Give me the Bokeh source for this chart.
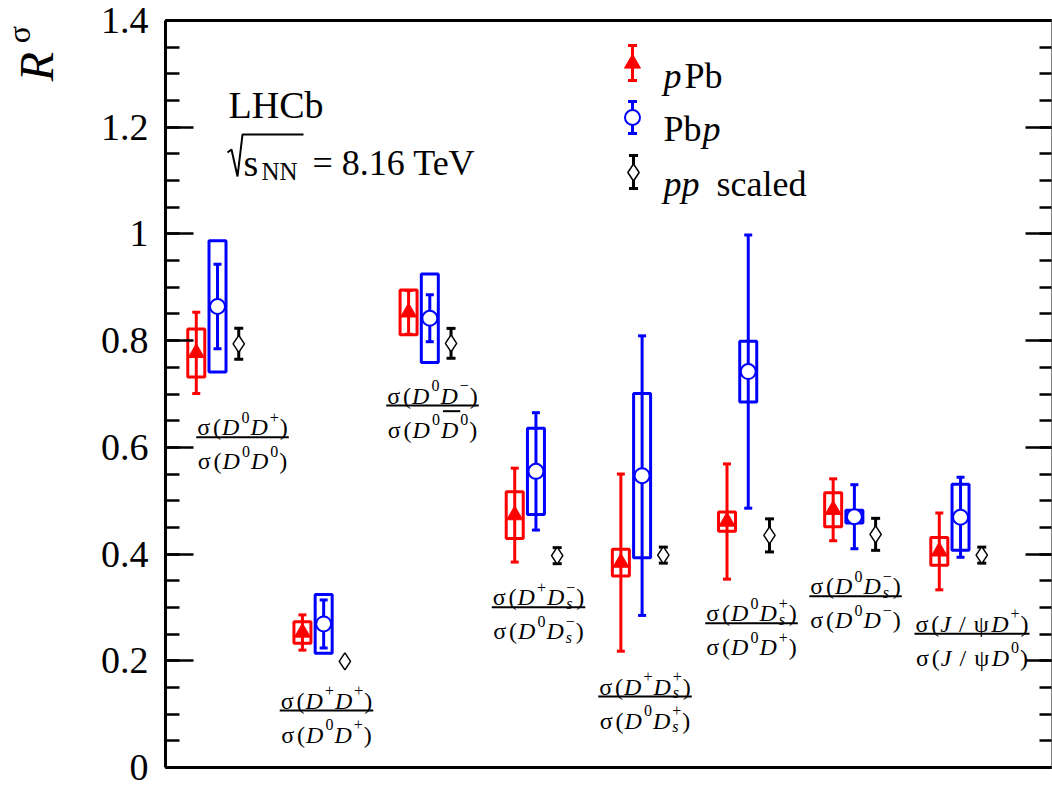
import math
from bokeh.plotting import figure
from bokeh.models import LinearAxis, FixedTicker, ColumnDataSource, CustomJSTickFormatter
from bokeh.core.properties import value
from bokeh.embed import file_html
from bokeh.resources import INLINE

# ---------------- data ----------------
num_labels = ["σ(D^0D^+)", "σ(D^+D^+)", "σ(D^0D^−)", "σ(D^+D_s^−)",
              "σ(D^+D_s^+)", "σ(D^0D_s^+)", "σ(D^0D_s^−)", "σ(J / ψD^+)"]
den_labels = ["σ(D^0D^0)", "σ(D^0D^+)", "σ(D^0~D^0)", "σ(D^0D_s^−)",
              "σ(D^0D_s^+)", "σ(D^0D^+)", "σ(D^0D^−)", "σ(J / ψD^0)"]

pPb_val  = [0.777, 0.253, 0.853, 0.473, 0.384, 0.461, 0.483, 0.405]
pPb_stat = [0.076, 0.033, 0.041, 0.088, 0.166, 0.108, 0.058, 0.072]
pPb_syst = [0.045, 0.020, 0.042, 0.044, 0.025, 0.018, 0.032, 0.026]

Pbp_val  = [0.864, 0.269, 0.842, 0.555, 0.547, 0.742, 0.470, 0.469]
Pbp_stat = [0.079, 0.045, 0.044, 0.110, 0.262, 0.256, 0.060, 0.075]
Pbp_syst = [0.123, 0.055, 0.083, 0.081, 0.154, 0.057, 0.012, 0.062]

pp_val = [0.794, 0.199, 0.795, 0.397, 0.398, 0.435, 0.437, 0.398]
pp_err = [0.029, 0.000, 0.028, 0.015, 0.015, 0.031, 0.030, 0.015]

y_ticks = [0, 0.2, 0.4, 0.6, 0.8, 1.0, 1.2, 1.4]
y_tick_labels = ["0", "0.2", "0.4", "0.6", "0.8", "1", "1.2", "1.4"]
y_minor = [0.05 * k for k in range(29)]

legend_names = [("p", "Pb"), ("Pb", "p"), ("pp", "scaled")]
y_title = ("R", "σ")

# ---------------- layout ----------------
FONT = "Liberation Serif"
RED, BLUE, BLACK = "#ff0000", "#0000ff", "#000000"
X_AX, X_RT = 0.51, 8.857        # data x of the drawn left / right axes
Y_LO, Y_HI = 0.0, 1.4
FIG_W, FIG_H = 1052, 789
AX_L, AX_T, AX_R, AX_B = 165, 20, 1051, 767   # drawn axes box, page pixels
PXU_X = (AX_R - AX_L) / (X_RT - X_AX)
PXU_Y = (AX_B - AX_T) / (Y_HI - Y_LO)
# the frame covers the whole canvas; axes are drawn at fixed locations
X_START = X_AX - AX_L / PXU_X
X_END = X_RT + (FIG_W - AX_R) / PXU_X
Y_START = Y_LO - (FIG_H - AX_B) / PXU_Y
Y_END = Y_HI + AX_T / PXU_Y


def px_x(px):
    return X_AX + (px - AX_L) / PXU_X


def px_y(py):
    return Y_LO + (AX_B - py) / PXU_Y


p = figure(width=FIG_W, height=FIG_H, x_range=(X_START, X_END), y_range=(Y_START, Y_END),
           output_backend="svg", toolbar_location=None,
           min_border_left=0, min_border_right=0, min_border_top=0, min_border_bottom=0)
p.grid.visible = False
p.outline_line_color = None
p.background_fill_color = "white"
p.border_fill_color = "white"

blank = CustomJSTickFormatter(code="return ''")

# left axis
ya = p.yaxis[0]
ya.fixed_location = X_AX
ya.bounds = (Y_LO, Y_HI)
ya.ticker = FixedTicker(ticks=y_ticks, minor_ticks=y_minor)
ya.major_label_overrides = {t: l for t, l in zip(y_ticks, y_tick_labels)}
ya.major_label_text_font = FONT
ya.major_label_text_font_size = "38px"
ya.major_label_text_color = BLACK
ya.major_label_standoff = 17
ya.axis_line_width = 3
ya.axis_line_color = BLACK
ya.major_tick_in = 28
ya.major_tick_out = 0
ya.minor_tick_in = 14
ya.minor_tick_out = 0
ya.major_tick_line_width = 2.5
ya.minor_tick_line_width = 2.5

# bottom axis: line only
xa = p.xaxis[0]
xa.fixed_location = Y_LO
xa.bounds = (X_AX, X_RT)
xa.ticker = FixedTicker(ticks=[])
xa.formatter = blank
xa.major_tick_line_color = None
xa.minor_tick_line_color = None
xa.major_label_text_font_size = "0px"
xa.major_label_standoff = 0
xa.axis_line_width = 3
xa.axis_line_color = BLACK

ra = LinearAxis(fixed_location=X_RT, bounds=(Y_LO, Y_HI),
                ticker=FixedTicker(ticks=y_ticks, minor_ticks=y_minor), formatter=blank,
                major_label_text_font_size="0px", major_label_standoff=0,
                axis_line_width=1, axis_line_color="#808080",
                major_tick_in=26, major_tick_out=0, minor_tick_in=12, minor_tick_out=0,
                major_tick_line_width=2.5, minor_tick_line_width=2.5)
p.add_layout(ra, "right")
ta = LinearAxis(fixed_location=Y_HI, bounds=(X_AX, X_RT),
                ticker=FixedTicker(ticks=[]), formatter=blank,
                major_label_text_font_size="0px", major_label_standoff=0,
                axis_line_width=3, axis_line_color=BLACK,
                major_tick_line_color=None, minor_tick_line_color=None)
p.add_layout(ta, "above")

# ---------------- data marks ----------------
xpos = list(range(1, 9))
x_red = [x - 0.2 for x in xpos]
x_blue = [x for x in xpos]
x_black = [x + 0.2 for x in xpos]


def draw_series(xs, vals, stat, syst, color, cap_w=8):
    if syst is not None:
        p.rect(x=xs, y=vals, width=17, height=[2 * s for s in syst], width_units="screen",
               fill_color=None, line_color=color, line_width=3)
    p.segment(x0=xs, y0=[v - e for v, e in zip(vals, stat)], x1=xs,
              y1=[v + e for v, e in zip(vals, stat)], line_color=color, line_width=3)
    cx, cy = [], []
    for x, v, e in zip(xs, vals, stat):
        if e * PXU_Y > 6:
            cx += [x, x]
            cy += [v - e, v + e]
    p.rect(x=cx, y=cy, width=cap_w, height=3, width_units="screen", height_units="screen",
           fill_color=color, line_color=None)


draw_series(x_red, pPb_val, pPb_stat, pPb_syst, RED)
draw_series(x_blue, Pbp_val, Pbp_stat, Pbp_syst, BLUE)
draw_series(x_black, pp_val, pp_err, None, BLACK, cap_w=9)

MK_RED = dict(marker="triangle", size=16, fill_color=RED, line_color=RED, line_width=1)
MK_BLUE = dict(marker="circle", size=15, fill_color="white", line_color=BLUE, line_width=2)
MK_BLACK = dict(marker="diamond", size=17, fill_color="white", line_color=BLACK, line_width=1.5)
p.scatter(x_red, pPb_val, **MK_RED)
p.scatter(x_blue, Pbp_val, **MK_BLUE)
p.scatter(x_black, pp_val, **MK_BLACK)

# ---------------- legend (manual) ----------------
leg_rows = [(RED, MK_RED, 632, 63, 45, 80),
            (BLUE, MK_BLUE, 632, 117, 101, 133),
            (BLACK, MK_BLACK, 633, 172, 155, 188)]
for color, mk, mx, my, top, bot in leg_rows:
    p.segment(x0=[px_x(mx)], y0=[px_y(bot)], x1=[px_x(mx)], y1=[px_y(top)],
              line_color=color, line_width=3)
    p.rect(x=[px_x(mx)] * 2, y=[px_y(top), px_y(bot)], width=9, height=3,
           width_units="screen", height_units="screen", fill_color=color, line_color=None)
    p.scatter([px_x(mx)], [px_y(my)], **mk)

LFS = 36
W_REG = {'σ': 0.62, '(': 0.333, ')': 0.333, '0': 0.5, '+': 0.564, '−': 0.564, '/': 0.278,
         'ψ': 0.69, ' ': 0.25, 'P': 0.556, 'b': 0.5, 'N': 0.722}
W_IT = {'D': 0.722, 'J': 0.444, 's': 0.389, 'p': 0.5}

texts = {True: dict(x=[], y=[], t=[], dx=[], dy=[], fs=[]),
         False: dict(x=[], y=[], t=[], dx=[], dy=[], fs=[])}


def add_text(x, y, t, dx, dy, fs, italic):
    d = texts[italic]
    d["x"].append(x); d["y"].append(y); d["t"].append(t)
    d["dx"].append(dx); d["dy"].append(dy); d["fs"].append("%dpx" % fs)


def word_w(s, fs, italic):
    tab = W_IT if italic else W_REG
    return sum(tab.get(c, 0.5) for c in s) * fs


# legend texts
(l1a, l1b), (l2a, l2b), (l3a, l3b) = legend_names
add_text(px_x(663), px_y(75), l1a, 0, 0, LFS, True)
add_text(px_x(663), px_y(75), l1b, word_w(l1a, LFS, True) + 3, 0, LFS, False)
add_text(px_x(663), px_y(128), l2a, 0, 0, LFS, False)
add_text(px_x(663), px_y(128), l2b, word_w(l2a, LFS, False) + 1, 0, LFS, True)
add_text(px_x(663), px_y(183), l3a, 0, 0, LFS, True)
add_text(px_x(663), px_y(183), l3b, word_w(l3a, LFS, True) + 17, 0, LFS, False)

# LHCb / sqrt(s_NN)
add_text(px_x(228), px_y(104), "LHCb", 0, 0, 38, False)
add_text(px_x(243), px_y(162), "s", 0, 0, 38, False)
add_text(px_x(261), px_y(171), "NN", 0, 0, 25, False)
add_text(px_x(312), px_y(162), "= 8.16 TeV", 0, 0, 36, False)
rad_px = [(227, 152), (231, 149), (237, 176), (242, 134), (303, 134)]
p.line([px_x(a) for a, b in rad_px], [px_y(b) for a, b in rad_px], line_color=BLACK,
       line_width=2)

# ---------------- fraction labels ----------------
frac_cx = [242, 326, 432, 538, 644.5, 751, 855, 971.5]
frac_cy = [436.7, 710, 405, 606.7, 696, 622.7, 595.7, 633.3]
FS, SS, GAP, GAP_S, RISE, DROP = 24, 16, 1.0, 1.0, 10, 6
NUM_BASE, DEN_BASE = -10, 24


def layout(expr):
    runs, overs = [], []
    x, i, over = 0.0, 0, False
    while i < len(expr):
        c = expr[i]
        if c == '~':
            over = True; i += 1; continue
        if c in '^_':
            w = 0.0
            while i < len(expr) and expr[i] in '^_':
                kind, ch = expr[i], expr[i + 1]
                it = ch in W_IT
                runs.append((ch, it, SS, x + GAP_S, -RISE if kind == '^' else DROP))
                w = max(w, word_w(ch, SS, it))
                i += 2
            x += w + GAP_S + GAP
            continue
        it = c in 'DJ'
        w = word_w(c, FS, it)
        runs.append((c, it, FS, x, 0))
        if over:
            overs.append((x + 2, x + w + 2)); over = False
        x += w + GAP
        i += 1
    return runs, overs, x - GAP


line_x, line_y, line_w = [], [], []
ov_x, ov_y, ov_w = [], [], []
for num, den, cxp, cyp in zip(num_labels, den_labels, frac_cx, frac_cy):
    cx, cy = px_x(cxp), px_y(cyp)
    wmax = 0
    for expr, base in ((num, NUM_BASE), (den, DEN_BASE)):
        runs, overs, tot = layout(expr)
        wmax = max(wmax, tot)
        for t, it, fs, dx, dy in runs:
            add_text(cx, cy, t, dx - tot / 2, base + dy, fs, it)
        for a, b in overs:
            ov_x.append(cx + ((a + b) / 2 - tot / 2) / PXU_X)
            ov_y.append(cy - (base - 0.68 * FS - 2) / PXU_Y)
            ov_w.append(b - a)
    line_x.append(cx); line_y.append(cy); line_w.append(wmax + 2)

p.rect(x=line_x, y=line_y, width=line_w, height=2, width_units="screen",
       height_units="screen", fill_color=BLACK, line_color=None)
p.rect(x=ov_x, y=ov_y, width=ov_w, height=2, width_units="screen",
       height_units="screen", fill_color=BLACK, line_color=None)

for italic, d in texts.items():
    src = ColumnDataSource(d)
    p.text(x="x", y="y", text="t", x_offset="dx", y_offset="dy", text_font_size="fs",
           source=src, text_font=value(FONT), text_font_style="italic" if italic else "normal",
           text_align="left", text_baseline="alphabetic", text_color=BLACK)

# ---------------- axis title R^sigma (rotated, left of the axis) ----------------
p.text(x=[px_x(36)], y=[px_y(66)], text=[y_title[0]], angle=math.pi / 2,
       text_font=value(FONT), text_font_style="italic", text_font_size="48px",
       text_align="center", text_baseline="middle", text_color=BLACK)
p.text(x=[px_x(18)], y=[px_y(34)], text=[y_title[1]], angle=math.pi / 2,
       text_font=value(FONT), text_font_size="32px",
       text_align="center", text_baseline="middle", text_color=BLACK)

open("out.html", "w").write(file_html(p, INLINE))
